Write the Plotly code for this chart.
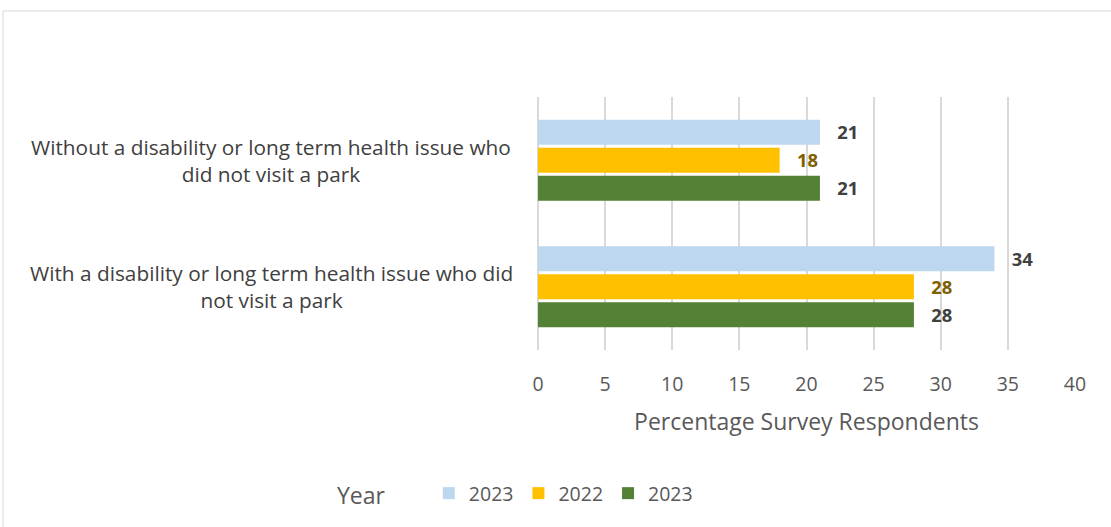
import plotly.graph_objects as go

# Survey groups (bottom to top on the chart)
categories = [
    "With a disability or long term health issue who did<br>not visit a park",
    "Without a disability or long term health issue who<br>did not visit a park",
]

# Percentage of respondents per year series
series_names = ["2023", "2022", "2023"]
values_blue_2023 = [34, 21]
values_yellow_2022 = [28, 18]
values_green_2023 = [28, 21]

colors = {"blue": "#BDD7EE", "yellow": "#FFC000", "green": "#538135"}
label_colors = {"blue": "#404040", "yellow": "#7F6000", "green": "#404040"}

x_ticks = [0, 5, 10, 15, 20, 25, 30, 35, 40]

FONT = "Open Sans, Liberation Sans, sans-serif"

fig = go.Figure()

# Horizontal grouped bars stack upward within a group, so add the bottom bar first.
trace_specs = [
    ("green", series_names[2], values_green_2023, 3),
    ("yellow", series_names[1], values_yellow_2022, 2),
    ("blue", series_names[0], values_blue_2023, 1),
]
for key, name, vals, rank in trace_specs:
    fig.add_trace(go.Bar(
        y=categories,
        x=vals,
        name=name,
        orientation="h",
        marker=dict(color=colors[key], line=dict(width=0)),
        text=vals,
        texttemplate="&nbsp;&nbsp;&nbsp;%{x}",
        textposition="outside",
        cliponaxis=False,
        textfont=dict(family=FONT, size=19, color=label_colors[key], weight="bold"),
        legendrank=rank,
    ))

# Category labels, centred over two lines to the left of the plot
for cat in categories:
    fig.add_annotation(
        x=-0.497, xref="paper", y=cat, yref="y",
        text=cat, showarrow=False, align="center",
        xanchor="center", yanchor="middle",
        font=dict(family=FONT, size=20.8, color="#404040"),
    )

# Light outer frame of the chart area
fig.add_shape(
    type="rect", xref="paper", yref="paper",
    x0=-0.9963, x1=1.2, y0=-1.0, y1=1.34,
    line=dict(color="#D9D9D9", width=1), fillcolor="rgba(0,0,0,0)", layer="below",
)

fig.update_layout(
    width=1111, height=527,
    margin=dict(l=538, r=36, t=97, b=177),
    paper_bgcolor="white", plot_bgcolor="white",
    barmode="group", bargap=0.336, bargroupgap=0.1,
    font=dict(family=FONT, color="#595959"),
    xaxis=dict(
        range=[0, 40], tickvals=x_ticks, ticktext=[str(t) for t in x_ticks],
        showgrid=True, gridcolor="#D9D9D9", gridwidth=1.5,
        zeroline=True, zerolinecolor="#D9D9D9", zerolinewidth=1.5,
        showline=False, ticks="", ticklabelstandoff=20,
        tickfont=dict(family=FONT, size=19.5, color="#595959"),
        title=dict(text="Percentage Survey Respondents", standoff=18,
                   font=dict(family=FONT, size=23, color="#595959")),
        fixedrange=True,
    ),
    yaxis=dict(showticklabels=False, showgrid=False, zeroline=False, ticks="",
               fixedrange=True),
    legend=dict(
        orientation="h", x=-0.378, xanchor="left", y=-0.49, yanchor="top",
        title=dict(text="Year&nbsp;&nbsp;&nbsp;&nbsp;&nbsp;&nbsp;", side="left",
                   font=dict(family=FONT, size=23, color="#595959")),
        font=dict(family=FONT, size=19.5, color="#595959"),
        traceorder="normal",
    ),
)

fig.write_html("out.html")
